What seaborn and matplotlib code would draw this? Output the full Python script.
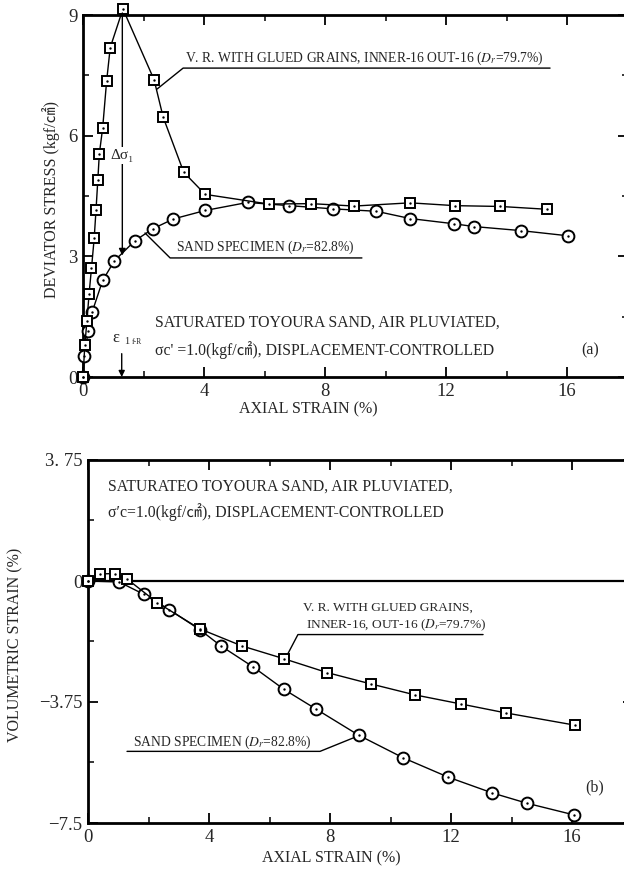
import numpy as np
import pandas as pd
import matplotlib
matplotlib.use("Agg")
import matplotlib.pyplot as plt
import seaborn as sns
from matplotlib.ticker import MultipleLocator

# ---------------- data ----------------
vr_a_x = [0, 0.06, 0.13, 0.2, 0.28, 0.37, 0.43, 0.49, 0.54, 0.65, 0.78, 0.9, 1.32,
          2.35, 2.65, 3.33, 4.04, 6.14, 7.55, 8.97, 10.81, 12.3, 13.8, 15.33]
vr_a_y = [0, 0.79, 1.39, 2.06, 2.70, 3.45, 4.15, 4.9, 5.55, 6.19, 7.35, 8.19, 9.15,
          7.39, 6.46, 5.09, 4.54, 4.30, 4.31, 4.25, 4.33, 4.26, 4.24, 4.17]

sand_a_x = [0, 0.02, 0.18, 0.3, 0.65, 1.04, 1.72, 2.32, 2.99, 4.04, 5.44, 6.82,
            8.27, 9.7, 10.81, 12.26, 12.93, 14.47, 16.04]
sand_a_y = [0, 0.51, 1.14, 1.61, 2.40, 2.89, 3.39, 3.69, 3.93, 4.14, 4.34, 4.26,
            4.18, 4.12, 3.94, 3.81, 3.74, 3.64, 3.51]

vr_b_x = [0, 0.41, 0.88, 1.28, 2.29, 3.69, 5.08, 6.48, 7.91, 9.35, 10.81, 12.32, 13.82, 16.11]
vr_b_y = [0, 0.22, 0.23, 0.07, -0.67, -1.48, -2.01, -2.41, -2.84, -3.19, -3.53, -3.81, -4.09, -4.47]

sand_b_x = [0, 1.03, 1.84, 2.69, 3.70, 4.39, 5.47, 6.48, 7.54, 8.95, 10.42, 11.91, 13.37, 14.52, 16.07]
sand_b_y = [0, -0.03, -0.41, -0.89, -1.51, -2.01, -2.67, -3.36, -3.97, -4.78, -5.48, -6.08, -6.57, -6.89, -7.25]

x_ticks = [0, 4, 8, 12, 16]
y_ticks_a = [0, 3, 6, 9]
y_ticks_b = [-7.5, -3.75, 0, 3.75]
y_ticklabels_b = ["\u22127.5", "\u22123.75", "0", "3. 75"]

# ---------------- style ----------------
sns.set_theme(style="white")
FAM = ["Liberation Serif", "DejaVu Serif", "Noto Sans CJK JP"]
plt.rcParams["font.family"] = FAM
plt.rcParams["mathtext.fontset"] = "stix"
plt.rcParams["axes.unicode_minus"] = True

fig = plt.figure(figsize=(6.24, 8.71), dpi=100)
W, H = 624.0, 871.0
# axes placed so that the right spine lies just outside the picture (as in the scan)
ax1 = fig.add_axes([83 / W, 1 - 377 / H, 544.5 / W, 362 / H])
ax2 = fig.add_axes([88 / W, 1 - 823 / H, 544.5 / W, 363 / H])


def series(ax, xs, ys, marker, ms):
    df = pd.DataFrame({"x": xs, "y": ys})
    sns.lineplot(data=df, x="x", y="y", sort=False, estimator=None, ax=ax,
                 color="black", lw=1.0, marker=marker, markersize=ms,
                 markerfacecolor="white", markeredgecolor="black",
                 markeredgewidth=1.4, clip_on=False, zorder=3)
    sns.scatterplot(data=df, x="x", y="y", ax=ax, color="black", s=3,
                    linewidth=0, clip_on=False, zorder=4)


def style_axes(ax):
    for s in ax.spines.values():
        s.set_linewidth(2.0)
        s.set_color("black")
    ax.tick_params(which="both", direction="in", top=True, right=True,
                   bottom=True, left=True, color="black")
    ax.tick_params(which="major", length=7, width=1.3, labelsize=13.5, pad=4)
    ax.tick_params(which="minor", length=4, width=1.1)
    ax.set_xlim(0, 18)
    ax.xaxis.set_major_locator(MultipleLocator(4))
    ax.xaxis.set_minor_locator(MultipleLocator(2))
    ax.set_xticks(x_ticks)
    ax.set_xticklabels([str(v) for v in x_ticks])
    ax.grid(False)


# ---------------- panel (a) ----------------
series(ax1, sand_a_x, sand_a_y, "o", 8.5)
series(ax1, vr_a_x, vr_a_y, "s", 7)
style_axes(ax1)
ax1.set_ylim(0, 9)
ax1.set_yticks(y_ticks_a)
ax1.set_yticklabels([str(v) for v in y_ticks_a])
ax1.yaxis.set_minor_locator(MultipleLocator(1.5))
ax1.set_xlabel("AXIAL STRAIN (%)", fontsize=11.5)
ax1.xaxis.set_label_coords(0.413, -0.068)
ax1.set_ylabel("DEVIATOR STRESS (kgf/\u33a0)", fontsize=11.5)
ax1.yaxis.set_label_coords(-0.043, 0.49)

# annotations panel (a)
ax1.text(3.38, 7.93, "V. R. WITH GLUED GRAINS, INNER-16 OUT-16 ($D_r$=79.7%)",
         fontsize=9.8, ha="left", va="center")
ax1.plot([2.45, 3.31, 15.44], [7.16, 7.68, 7.68], color="black", lw=1.0)
ax1.text(3.08, 3.22, "SAND SPECIMEN ($D_r$=82.8%)", fontsize=9.8, ha="left", va="center")
ax1.plot([2.05, 2.88, 9.22], [3.58, 2.96, 2.96], color="black", lw=1.0)
ax1.annotate("", xy=(1.3, 3.02), xytext=(1.3, 9.05),
             arrowprops=dict(arrowstyle="-|>", color="black", lw=1.0,
                             mutation_scale=10, shrinkA=0, shrinkB=0))
ax1.text(1.3, 5.5, "\u0394\u03c3\u2081", fontsize=11, ha="center", va="center",
         bbox=dict(facecolor="white", edgecolor="none", pad=1.5), zorder=5)
ax1.annotate("", xy=(1.28, 0.0), xytext=(1.28, 0.58),
             arrowprops=dict(arrowstyle="-|>", color="black", lw=1.0,
                             mutation_scale=9, shrinkA=0, shrinkB=0))
ax1.text(0.98, 0.98, "\u03b5", fontsize=12, ha="left", va="center")
ax1.text(1.35, 0.88, "1", fontsize=7.5, ha="left", va="center")
ax1.text(1.62, 0.88, "f-R", fontsize=5.5, ha="left", va="center")
ax1.text(2.38, 1.34, "SATURATED TOYOURA SAND, AIR PLUVIATED,", fontsize=11.3,
         ha="left", va="center")
ax1.text(2.38, 0.67, "\u03c3c' =1.0(kgf/\u33a0), DISPLACEMENT-CONTROLLED", fontsize=11.3,
         ha="left", va="center")
ax1.text(16.76, 0.67, "(a)", fontsize=11.5, ha="center", va="center")

# ---------------- panel (b) ----------------
ax2.axhline(0, color="black", lw=1.6, zorder=1)
series(ax2, sand_b_x, sand_b_y, "o", 8.5)
series(ax2, vr_b_x, vr_b_y, "s", 7)
style_axes(ax2)
ax2.set_ylim(-7.5, 3.75)
ax2.set_yticks(y_ticks_b)
ax2.set_yticklabels(y_ticklabels_b)
ax2.yaxis.set_minor_locator(MultipleLocator(1.875))
ax2.set_xlabel("AXIAL STRAIN (%)", fontsize=11.5)
ax2.xaxis.set_label_coords(0.446, -0.075)
ax2.set_ylabel("VOLUMETRIC STRAIN (%)", fontsize=11.5)
ax2.yaxis.set_label_coords(-0.118, 0.49)

ax2.text(0.66, 2.91, "SATURATEO TOYOURA SAND, AIR PLUVIATED,", fontsize=11.3,
         ha="left", va="center")
ax2.text(0.66, 2.13, "\u03c3\u2032c=1.0(kgf/\u33a0), DISPLACEMENT-CONTROLLED", fontsize=11.3,
         ha="left", va="center")
ax2.text(7.11, -0.84, "V. R. WITH GLUED GRAINS,", fontsize=9.6, ha="left", va="center")
ax2.text(7.2, -1.37, "INNER-16, OUT-16 ($D_r$=79.7%)", fontsize=9.6, ha="left", va="center")
ax2.plot([6.61, 6.94, 13.06], [-2.25, -1.66, -1.66], color="black", lw=1.0)
ax2.text(1.49, -5.0, "SAND SPECIMEN ($D_r$=82.8%)", fontsize=9.8, ha="left", va="center")
ax2.plot([1.29, 7.67, 8.83], [-5.28, -5.28, -4.84], color="black", lw=1.0)
ax2.text(16.76, -6.4, "(b)", fontsize=11.5, ha="center", va="center")

fig.savefig("out.png", dpi=100)
